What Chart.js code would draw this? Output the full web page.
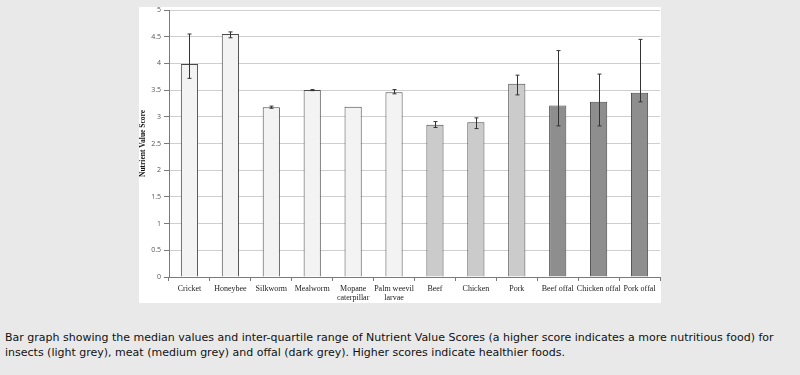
<!DOCTYPE html>
<html>
<head>
<meta charset="utf-8">
<script src="https://cdn.jsdelivr.net/npm/chart.js@4.4.1/dist/chart.umd.min.js"></script>
<style>
    body { margin: 0; background: #e9e9e9; width: 800px; height: 375px; overflow: hidden; position: relative; }
    #box { position: absolute; left: 139px; top: 7px; width: 522px; height: 296px; background: #fff; }
    #wrap { position: absolute; left: 139px; top: 0; width: 522px; height: 303px; }
    #caption { position: absolute; left: 5px; top: 330px; width: 790px; font-family: "DejaVu Sans", Verdana, sans-serif; font-size: 11px; line-height: 15px; color: #111; }
</style>
</head>
<body>
<div id="box"></div>
<div id="wrap"><canvas id="chart" width="522" height="303"></canvas></div>
<div id="caption">Bar graph showing the median values and inter-quartile range of Nutrient Value Scores (a higher score indicates a more nutritious food) for<br>insects (light grey), meat (medium grey) and offal (dark grey). Higher scores indicate healthier foods.</div>
<script>
const categories = ["Cricket", "Honeybee", "Silkworm", "Mealworm", ["Mopane", "caterpillar"], ["Palm weevil", "larvae"],
    "Beef", "Chicken", "Pork", "Beef offal", "Chicken offal", "Pork offal"];
const medians = [3.99, 4.55, 3.18, 3.50, 3.19, 3.46, 2.85, 2.90, 3.62, 3.21, 3.28, 3.45];
const q1 = [3.72, 4.48, 3.16, 3.49, 3.19, 3.43, 2.80, 2.78, 3.41, 2.83, 2.83, 3.28];
const q3 = [4.55, 4.59, 3.20, 3.51, 3.20, 3.51, 2.91, 2.98, 3.78, 4.24, 3.80, 4.45];
const groups = ["insect", "insect", "insect", "insect", "insect", "insect", "meat", "meat", "meat", "offal", "offal", "offal"];
const yTicks = [0, 0.5, 1, 1.5, 2, 2.5, 3, 3.5, 4, 4.5, 5];

const groupColor = { insect: "#f3f3f3", meat: "#cbcbcb", offal: "#8e8e8e" };

// whiskers for the inter-quartile range
const errorBars = {
    id: "errorBars",
    afterDatasetsDraw(chart) {
        const ctx = chart.ctx;
        const y = chart.scales.y;
        const meta = chart.getDatasetMeta(0);
        ctx.save();
        ctx.strokeStyle = "#333";
        ctx.lineWidth = 1;
        meta.data.forEach((bar, i) => {
            if (q3[i] - q1[i] < 0.015) return;
            const x = Math.round(bar.x) + 0.5;
            const top = y.getPixelForValue(q3[i]);
            const bot = y.getPixelForValue(q1[i]);
            ctx.beginPath();
            ctx.moveTo(x, top); ctx.lineTo(x, bot);
            ctx.moveTo(x - 2, top); ctx.lineTo(x + 2, top);
            ctx.moveTo(x - 2, bot); ctx.lineTo(x + 2, bot);
            ctx.stroke();
        });
        ctx.restore();
    }
};

new Chart(document.getElementById("chart"), {
    type: "bar",
    data: {
        labels: categories,
        datasets: [{
            data: medians,
            backgroundColor: groups.map(g => groupColor[g]),
            borderColor: "#4a4a4a",
            borderWidth: 1,
            barPercentage: 0.42,
            categoryPercentage: 1
        }]
    },
    options: {
        responsive: false,
        animation: false,
        layout: { padding: { top: 10, right: 1, left: 0, bottom: 0 } },
        plugins: { legend: { display: false }, tooltip: { enabled: false } },
        scales: {
            y: {
                min: 0,
                max: 5,
                afterBuildTicks: (s) => { s.ticks = yTicks.map(v => ({ value: v })); },
                afterFit: (s) => { s.width = 30; },
                border: { color: "#7a7a7a", width: 1 },
                grid: { color: "#cfcfcf", lineWidth: 1, tickColor: "#7a7a7a", tickLength: 5 },
                ticks: {
                    padding: 3,
                    color: "#555",
                    font: { family: "Open Sans", size: 7 },
                    callback: (v) => String(v)
                },
                title: {
                    display: true,
                    text: "Nutrient Value Score",
                    color: "#111",
                    padding: { top: 0, bottom: 0 },
                    font: { family: "Liberation Serif", size: 7.5, weight: "bold" }
                }
            },
            x: {
                afterFit: (s) => { s.height = 26; },
                border: { color: "#7a7a7a", width: 1 },
                grid: { drawOnChartArea: false, tickColor: "#7a7a7a", tickLength: 4, offset: true },
                ticks: {
                    padding: 3,
                    color: "#222",
                    maxRotation: 0,
                    autoSkip: false,
                    font: { family: "Liberation Serif", size: 8, lineHeight: 1.15 }
                }
            }
        }
    },
    plugins: [errorBars]
});
</script>
</body>
</html>
